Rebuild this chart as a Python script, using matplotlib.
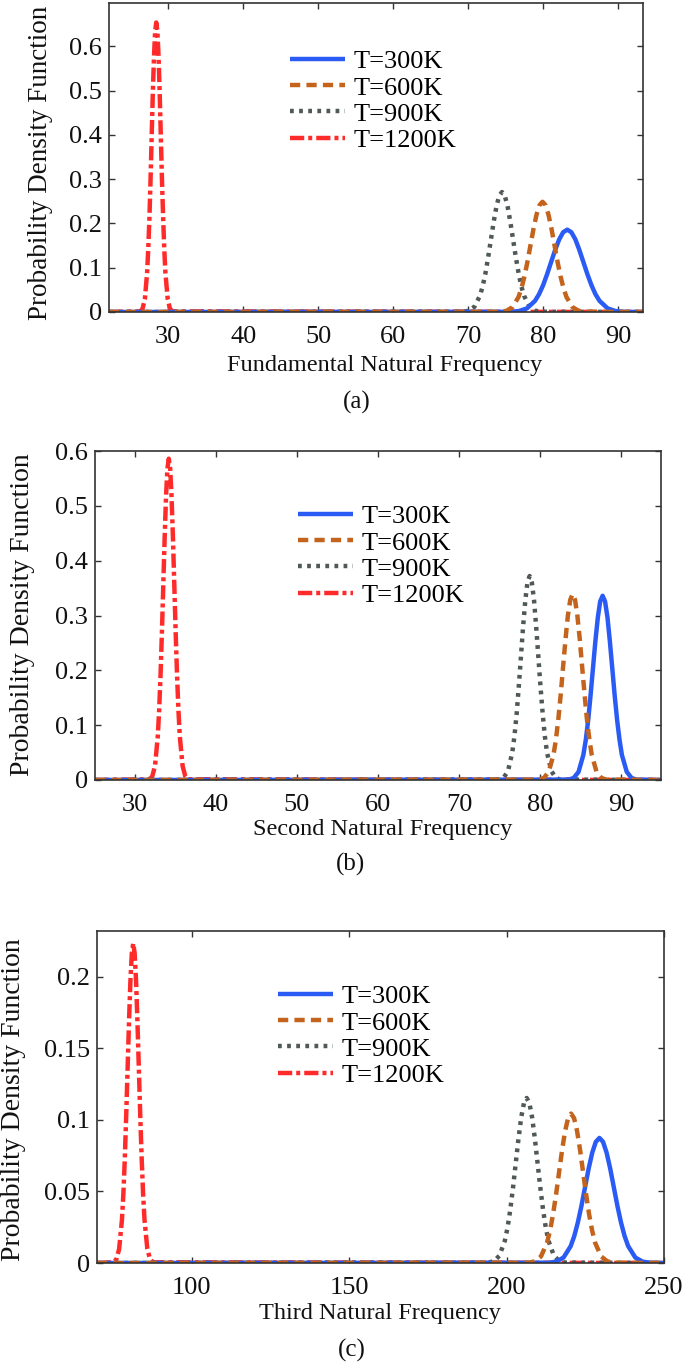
import matplotlib
matplotlib.use("Agg")
import matplotlib.pyplot as plt

plt.rcParams['font.family'] = ['Liberation Serif', 'DejaVu Serif']

# ---------------- data ----------------
labels = ["T=300K", "T=600K", "T=900K", "T=1200K"]

# Panel (a): Fundamental natural frequency
a_x300 = [75.68, 76.75, 77.83, 78.9, 79.44, 79.98, 80.51, 81.05, 81.59, 82.13, 82.66, 83.2,
          83.74, 84.28, 84.81, 85.35, 85.89, 86.43, 86.96, 87.5, 88.58, 89.65, 90.73]
a_y300 = [0.0004, 0.0021, 0.0082, 0.0252, 0.0402, 0.0604, 0.0852, 0.1128, 0.1404, 0.1641, 0.1803, 0.186,
          0.1803, 0.1641, 0.1404, 0.1128, 0.0852, 0.0604, 0.0402, 0.0252, 0.0082, 0.0021, 0.0004]
a_x600 = [74.3, 75.1, 75.9, 76.7, 77.1, 77.5, 77.9, 78.3, 78.7, 79.1, 79.5, 79.9,
          80.3, 80.7, 81.1, 81.5, 81.9, 82.3, 82.7, 83.1, 83.9, 84.7, 85.5]
a_y600 = [0.0005, 0.0028, 0.0109, 0.0337, 0.0539, 0.0809, 0.114, 0.151, 0.1879, 0.2197, 0.2413, 0.249,
          0.2413, 0.2197, 0.1879, 0.151, 0.114, 0.0809, 0.0539, 0.0337, 0.0109, 0.0028, 0.0005]
a_x900 = [69.36, 70.09, 70.83, 71.56, 71.93, 72.3, 72.66, 73.03, 73.4, 73.77, 74.13, 74.5,
          74.87, 75.24, 75.6, 75.97, 76.34, 76.71, 77.07, 77.44, 78.18, 78.91, 79.65]
a_y900 = [0.0006, 0.003, 0.0119, 0.0367, 0.0586, 0.088, 0.1241, 0.1644, 0.2046, 0.2392, 0.2627, 0.271,
          0.2627, 0.2392, 0.2046, 0.1644, 0.1241, 0.088, 0.0586, 0.0367, 0.0119, 0.003, 0.0006]
a_x1200 = [26.27, 26.57, 26.88, 27.18, 27.33, 27.49, 27.64, 27.79, 27.94, 28.1, 28.25, 28.4,
           28.55, 28.71, 28.86, 29.01, 29.16, 29.32, 29.47, 29.62, 29.93, 30.23, 30.54]
a_y1200 = [0.0014, 0.0073, 0.0287, 0.0885, 0.1415, 0.2124, 0.2994, 0.3967, 0.4936, 0.5772, 0.6339, 0.654,
           0.6339, 0.5772, 0.4936, 0.3967, 0.2994, 0.2124, 0.1415, 0.0885, 0.0287, 0.0073, 0.0014]
a_xlim = [22.1, 93.3]
a_ylim = [0, 0.698]
a_xticks = [30, 40, 50, 60, 70, 80, 90]
a_yticks = [0, 0.1, 0.2, 0.3, 0.4, 0.5, 0.6]
a_yticklabels = ["0", "0.1", "0.2", "0.3", "0.4", "0.5", "0.6"]

# Panel (b): Second natural frequency
b_x300 = [83.54, 84.13, 84.73, 85.32, 85.62, 85.92, 86.21, 86.51, 86.81, 87.11, 87.4, 87.7,
          88.0, 88.3, 88.59, 88.89, 89.19, 89.49, 89.79, 90.08, 90.68, 91.27, 91.87]
b_y300 = [0.0007, 0.0037, 0.0148, 0.0455, 0.0727, 0.1091, 0.1538, 0.2038, 0.2536, 0.2965, 0.3257, 0.336,
          0.3257, 0.2965, 0.2536, 0.2038, 0.1538, 0.1091, 0.0727, 0.0455, 0.0148, 0.0037, 0.0007]
b_x600 = [79.87, 80.46, 81.05, 81.64, 81.94, 82.23, 82.53, 82.82, 83.12, 83.41, 83.71, 84.0,
          84.3, 84.59, 84.89, 85.18, 85.48, 85.77, 86.07, 86.36, 86.95, 87.54, 88.13]
b_y600 = [0.0007, 0.0038, 0.0149, 0.0459, 0.0733, 0.1101, 0.1552, 0.2056, 0.2559, 0.2992, 0.3286, 0.339,
          0.3286, 0.2992, 0.2559, 0.2056, 0.1552, 0.1101, 0.0733, 0.0459, 0.0149, 0.0038, 0.0007]
b_x900 = [74.96, 75.49, 76.03, 76.56, 76.83, 77.1, 77.36, 77.63, 77.9, 78.17, 78.43, 78.7,
          78.97, 79.24, 79.5, 79.77, 80.04, 80.31, 80.57, 80.84, 81.38, 81.91, 82.45]
b_y900 = [0.0008, 0.0041, 0.0163, 0.0503, 0.0805, 0.1208, 0.1703, 0.2256, 0.2808, 0.3283, 0.3605, 0.372,
          0.3605, 0.3283, 0.2808, 0.2256, 0.1703, 0.1208, 0.0805, 0.0503, 0.0163, 0.0041, 0.0008]
b_x1200 = [31.82, 32.16, 32.5, 32.84, 33.01, 33.18, 33.35, 33.52, 33.69, 33.86, 34.03, 34.2,
           34.37, 34.54, 34.71, 34.88, 35.05, 35.22, 35.39, 35.56, 35.9, 36.24, 36.58]
b_y1200 = [0.0013, 0.0065, 0.0257, 0.0793, 0.1268, 0.1903, 0.2683, 0.3554, 0.4423, 0.5171, 0.568, 0.586,
           0.568, 0.5171, 0.4423, 0.3554, 0.2683, 0.1903, 0.1268, 0.0793, 0.0257, 0.0065, 0.0013]
b_xlim = [25.1, 94.9]
b_ylim = [0, 0.6]
b_xticks = [30, 40, 50, 60, 70, 80, 90]
b_yticks = [0, 0.1, 0.2, 0.3, 0.4, 0.5, 0.6]
b_yticklabels = ["0", "0.1", "0.2", "0.3", "0.4", "0.5", "0.6"]

# Panel (c): Third natural frequency
c_x300 = [213.54, 215.82, 218.1, 220.38, 221.52, 222.66, 223.8, 224.94, 226.08, 227.22, 228.36, 229.5,
          230.64, 231.78, 232.92, 234.06, 235.2, 236.34, 237.48, 238.62, 240.9, 243.18, 245.46]
c_y300 = [0.0002, 0.001, 0.0038, 0.0118, 0.0189, 0.0284, 0.04, 0.053, 0.066, 0.0771, 0.0847, 0.0874,
          0.0847, 0.0771, 0.066, 0.053, 0.04, 0.0284, 0.0189, 0.0118, 0.0038, 0.001, 0.0002]
c_x600 = [207.13, 209.04, 210.95, 212.86, 213.82, 214.77, 215.73, 216.68, 217.64, 218.59, 219.55, 220.5,
          221.46, 222.41, 223.37, 224.32, 225.28, 226.23, 227.19, 228.14, 230.05, 231.96, 233.87]
c_y600 = [0.0002, 0.0012, 0.0046, 0.0141, 0.0226, 0.0339, 0.0478, 0.0633, 0.0788, 0.0921, 0.1012, 0.1044,
          0.1012, 0.0921, 0.0788, 0.0633, 0.0478, 0.0339, 0.0226, 0.0141, 0.0046, 0.0012, 0.0002]
c_x900 = [194.29, 196.02, 197.75, 199.48, 200.35, 201.21, 202.08, 202.94, 203.81, 204.67, 205.54, 206.4,
          207.27, 208.13, 209.0, 209.86, 210.73, 211.59, 212.46, 213.32, 215.05, 216.78, 218.51]
c_y900 = [0.0003, 0.0013, 0.0051, 0.0156, 0.0249, 0.0374, 0.0528, 0.0699, 0.087, 0.1018, 0.1117, 0.1153,
          0.1117, 0.1018, 0.087, 0.0699, 0.0528, 0.0374, 0.0249, 0.0156, 0.0051, 0.0013, 0.0003]
c_x1200 = [75.24, 76.13, 77.03, 77.92, 78.37, 78.82, 79.26, 79.71, 80.16, 80.61, 81.05, 81.5,
           81.95, 82.4, 82.84, 83.29, 83.74, 84.19, 84.63, 85.08, 85.98, 86.87, 87.77]
c_y1200 = [0.0005, 0.0025, 0.0098, 0.0302, 0.0483, 0.0725, 0.1023, 0.1355, 0.1686, 0.1971, 0.2165, 0.2234,
           0.2165, 0.1971, 0.1686, 0.1355, 0.1023, 0.0725, 0.0483, 0.0302, 0.0098, 0.0025, 0.0005]
c_xlim = [70, 250]
c_ylim = [0, 0.232]
c_xticks = [100, 150, 200, 250]
c_yticks = [0, 0.05, 0.1, 0.15, 0.2]
c_yticklabels = ["0", "0.05", "0.1", "0.15", "0.2"]

xlabels = ["Fundamental Natural Frequency", "Second Natural Frequency", "Third Natural Frequency"]
captions = ["(a)", "(b)", "(c)"]
ylabel = "Probability Density Function"

# ---------------- styling ----------------
W, H = 685, 1369
colors = ["#2b5bf5", "#c3631c", "#505858", "#ff2a2a"]
styles = ["-", (0, (2.3, 1.4)), (0, (0.85, 1.2)), (0, (3.2, 0.9, 0.9, 0.9))]
zorders = [3, 4, 2.5, 2]
LW = 3.2

fig = plt.figure(figsize=(W / 100, H / 100), dpi=100)

def px_axes(left, top, right, bottom):
    return fig.add_axes([left / W, 1 - bottom / H, (right - left) / W, (bottom - top) / H])

panels = [
    dict(box=(109, 3, 643, 312), xs=[a_x300, a_x600, a_x900, a_x1200], ys=[a_y300, a_y600, a_y900, a_y1200],
         xlim=a_xlim, ylim=a_ylim, xticks=a_xticks, yticks=a_yticks, ytl=a_yticklabels,
         leg=(290, 50), xl=(385, 366), cap=(357, 402), yl=(41, 163), ylfs=19.5),
    dict(box=(95, 451, 661, 780), xs=[b_x300, b_x600, b_x900, b_x1200], ys=[b_y300, b_y600, b_y900, b_y1200],
         xlim=b_xlim, ylim=b_ylim, xticks=b_xticks, yticks=b_yticks, ytl=b_yticklabels,
         leg=(298, 505), xl=(383, 830), cap=(350, 864), yl=(23, 615), ylfs=20),
    dict(box=(97, 931, 664, 1263), xs=[c_x300, c_x600, c_x900, c_x1200], ys=[c_y300, c_y600, c_y900, c_y1200],
         xlim=c_xlim, ylim=c_ylim, xticks=c_xticks, yticks=c_yticks, ytl=c_yticklabels,
         leg=(278, 985), xl=(380, 1314), cap=(352, 1350), yl=(14, 1100), ylfs=20),
]

for i, p in enumerate(panels):
    ax = px_axes(*p["box"])
    x0, x1 = p["xlim"]
    handles = []
    for k in range(4):
        xx = [x0] + list(p["xs"][k]) + [x1]
        yy = [0] + list(p["ys"][k]) + [0]
        h, = ax.plot(xx, yy, color=colors[k], linestyle=styles[k], lw=LW, label=labels[k],
                     solid_capstyle='butt', dash_capstyle='butt', solid_joinstyle='round',
                     zorder=zorders[k])
        handles.append(h)
    ax.set_xlim(p["xlim"])
    ax.set_ylim(p["ylim"])
    ax.set_xticks(p["xticks"])
    ax.set_yticks(p["yticks"])
    ax.set_yticklabels(p["ytl"])
    ax.tick_params(direction='in', top=True, right=True, length=4, width=1, color='#333333',
                   labelsize=19, labelcolor='#111111')
    ax.tick_params(axis='x', pad=10)
    ax.tick_params(axis='y', pad=5)
    for s in ax.spines.values():
        s.set_color('#333333')
        s.set_linewidth(1.2)
        s.set_zorder(5)
    lx, ly = p["leg"]
    ax.legend(handles=handles, loc='upper left', bbox_to_anchor=(lx / W, 1 - ly / H),
              bbox_transform=fig.transFigure, frameon=False, fontsize=19, borderpad=0,
              borderaxespad=0, handlelength=2.1, handletextpad=0.3, labelspacing=0.1)
    fig.text(p["xl"][0] / W, 1 - p["xl"][1] / H, xlabels[i], ha='center', va='center', fontsize=17.5, color='#111111')
    fig.text(p["cap"][0] / W, 1 - p["cap"][1] / H, captions[i], ha='center', va='center', fontsize=18, color='#111111')
    fig.text(p["yl"][0] / W, 1 - p["yl"][1] / H, ylabel, ha='center', va='center', rotation=90,
             fontsize=p["ylfs"], color='#111111')

fig.savefig("out.png", dpi=100)
